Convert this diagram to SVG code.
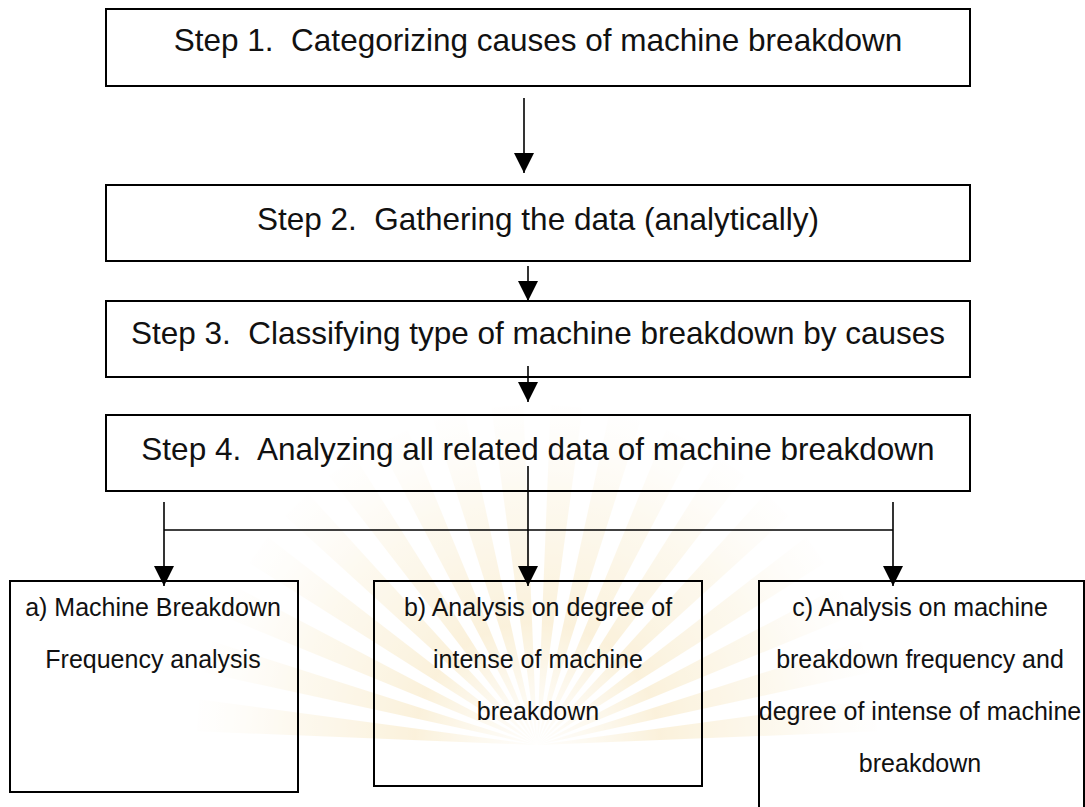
<svg xmlns="http://www.w3.org/2000/svg" xmlns:xlink="http://www.w3.org/1999/xlink" width="1085" height="807" viewBox="0 0 1085 807">
  <defs>
    <style>
      .box { fill: none; stroke: #000; stroke-width: 2; }
      .step { font-family: "Liberation Sans", Arial, sans-serif; font-size: 31.5px; fill: #111; text-anchor: middle; white-space: pre; }
      .sub { font-family: "Liberation Sans", Arial, sans-serif; font-size: 25px; fill: #111; text-anchor: middle; }
      .conn { fill: none; stroke: #000; stroke-width: 1.6; }
    </style>
    <marker id="arrow" markerUnits="userSpaceOnUse" markerWidth="20" markerHeight="20" refX="20" refY="10" orient="auto">
      <path d="M0,0 L20,10 L0,20 Z" fill="#000"/>
    </marker>
    <!-- ray gradient is centred on the ray's own origin; pale near the hub -->
    <radialGradient id="glow" cx="0" cy="0" r="350" gradientUnits="userSpaceOnUse">
      <stop offset="0" stop-color="#f6e4b8" stop-opacity="0.1"/>
      <stop offset="0.35" stop-color="#f3d58f" stop-opacity="0.7"/>
      <stop offset="0.7" stop-color="#f6e2b0" stop-opacity="0.45"/>
      <stop offset="1" stop-color="#fbf0d6" stop-opacity="0"/>
    </radialGradient>
    <polygon id="ray" points="0,0 -16,-340 16,-340" fill="url(#glow)"/>
  </defs>

  <rect width="1085" height="807" fill="#fff"/>

  <!-- faint emblem in the background -->
  <g id="emblem" opacity="0.45">
    <g transform="translate(537,745)">
      <use xlink:href="#ray" transform="rotate(-85)"/>
      <use xlink:href="#ray" transform="rotate(-75)"/>
      <use xlink:href="#ray" transform="rotate(-65)"/>
      <use xlink:href="#ray" transform="rotate(-55)"/>
      <use xlink:href="#ray" transform="rotate(-45)"/>
      <use xlink:href="#ray" transform="rotate(-35)"/>
      <use xlink:href="#ray" transform="rotate(-25)"/>
      <use xlink:href="#ray" transform="rotate(-15)"/>
      <use xlink:href="#ray" transform="rotate(-5)"/>
      <use xlink:href="#ray" transform="rotate(5)"/>
      <use xlink:href="#ray" transform="rotate(15)"/>
      <use xlink:href="#ray" transform="rotate(25)"/>
      <use xlink:href="#ray" transform="rotate(35)"/>
      <use xlink:href="#ray" transform="rotate(45)"/>
      <use xlink:href="#ray" transform="rotate(55)"/>
      <use xlink:href="#ray" transform="rotate(65)"/>
      <use xlink:href="#ray" transform="rotate(75)"/>
      <use xlink:href="#ray" transform="rotate(85)"/>
    </g>
  </g>

  <g id="step1">
    <rect class="box" x="106" y="9" width="864" height="77"/>
    <text class="step" x="538" y="51" xml:space="preserve">Step 1.  Categorizing causes of machine breakdown</text>
  </g>
  <g id="step2">
    <rect class="box" x="106" y="185" width="864" height="76"/>
    <text class="step" x="538" y="230" xml:space="preserve">Step 2.  Gathering the data (analytically)</text>
  </g>
  <g id="step3">
    <rect class="box" x="106" y="301" width="864" height="76"/>
    <text class="step" x="538" y="344" xml:space="preserve">Step 3.  Classifying type of machine breakdown by causes</text>
  </g>
  <g id="step4">
    <rect class="box" x="106" y="415" width="864" height="76"/>
    <text class="step" x="538" y="460" xml:space="preserve">Step 4.  Analyzing all related data of machine breakdown</text>
  </g>

  <g id="analysis-a">
    <rect class="box" x="10" y="581" width="288" height="211"/>
    <text class="sub" x="153" y="616">a) Machine Breakdown</text>
    <text class="sub" x="153" y="668">Frequency analysis</text>
  </g>
  <g id="analysis-b">
    <rect class="box" x="374" y="581" width="328" height="205"/>
    <text class="sub" x="538" y="616">b) Analysis on degree of</text>
    <text class="sub" x="538" y="668">intense of machine</text>
    <text class="sub" x="538" y="720">breakdown</text>
  </g>
  <g id="analysis-c">
    <rect class="box" x="759" y="581" width="325" height="240"/>
    <text class="sub" x="920" y="616">c) Analysis on machine</text>
    <text class="sub" x="920" y="668">breakdown frequency and</text>
    <text class="sub" x="920" y="720">degree of intense of machine</text>
    <text class="sub" x="920" y="772">breakdown</text>
  </g>

  <g id="connectors">
    <path class="conn" d="M524,98 V173" marker-end="url(#arrow)"/>
    <path class="conn" d="M528,266 V301" marker-end="url(#arrow)"/>
    <path class="conn" d="M528,366 V402" marker-end="url(#arrow)"/>
    <path class="conn" d="M528,466 V586" marker-end="url(#arrow)"/>
    <path class="conn" d="M164,502 V586" marker-end="url(#arrow)"/>
    <path class="conn" d="M893,502 V586" marker-end="url(#arrow)"/>
    <path class="conn" d="M164,530 H893"/>
  </g>
</svg>
